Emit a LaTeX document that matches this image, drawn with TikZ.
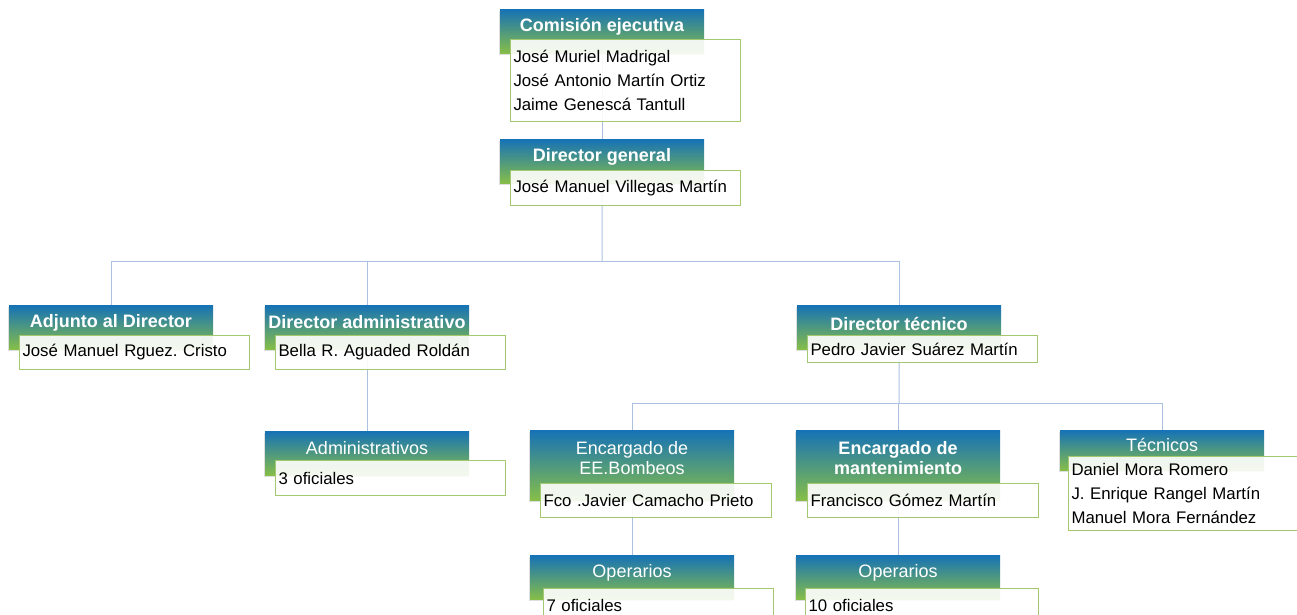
\documentclass[tikz,border=0pt]{standalone}
\usepackage{fontspec}
\setmainfont{Liberation Sans}
\frenchspacing
\usetikzlibrary{shadows,backgrounds}
\definecolor{hdrtop}{RGB}{22,114,182}
\definecolor{hdrbot}{RGB}{134,190,72}
\definecolor{detline}{RGB}{164,200,112}
\definecolor{connline}{RGB}{172,193,226}
\tikzset{
  hdr/.style={anchor=north west, minimum width=204pt, inner sep=0pt,
    top color=hdrtop, bottom color=hdrbot, draw=none,
    drop shadow={shadow xshift=-1.5pt, shadow yshift=-1.5pt, opacity=0.25}},
  htxt/.style={text=white, align=center, inner sep=0pt, yshift=-2.5pt,
    font=\fontsize{18}{20}\selectfont},
  htxtb/.style={htxt, font=\fontsize{18}{20}\selectfont\bfseries},
  det/.style={anchor=north west, draw=detline, line width=1pt, fill=white,
    fill opacity=0.9, text opacity=1, inner ysep=4pt, inner xsep=3pt, text width=224pt,
    align=left, font=\fontsize{16.8}{24}\selectfont\frenchspacing},
  conn/.style={draw=connline, line width=1pt}
}
\begin{document}
\begin{tikzpicture}[x=1pt,y=-1pt]
\useasboundingbox (0,0) rectangle (1297,615);
\clip (0,0) rectangle (1297,615);
% Comision ejecutiva
\node[hdr, minimum height=44pt] (h1) at (500,9) {};
\node[htxtb] (t1) at (602,24) {Comisión ejecutiva};
\node[det, minimum height=82pt] (d1) at (510,39) {José Muriel Madrigal\\José Antonio Martín Ortiz\\Jaime Genescá Tantull};
% Director general
\node[hdr, minimum height=44pt] (h2) at (500,139) {};
\node[htxtb] (t2) at (602,154) {Director general};
\node[det, minimum height=35pt] (d2) at (510,170) {José Manuel Villegas Martín};
% Adjunto
\node[hdr, minimum height=44pt] (hA) at (9,305) {};
\node[htxtb] (tA) at (111,320) {Adjunto al Director};
\node[det, minimum height=34pt] (dA) at (19,335) {José Manuel Rguez. Cristo};
% Director administrativo
\node[hdr, minimum height=44pt] (hB) at (265,305) {};
\node[htxtb] (tB) at (367,320) {Director administrativo};
\node[det, minimum height=34pt] (dB) at (275,335) {Bella R. Aguaded Roldán};
% Director tecnico
\node[hdr, minimum height=44pt] (hT) at (797,305) {};
\node[htxtb] (tT) at (899,321) {Director técnico};
\node[det, minimum height=27pt] (dT) at (807,335) {Pedro Javier Suárez Martín};
% Administrativos
\node[hdr, minimum height=44pt] (hC) at (265,431) {};
\node[htxt] (tC) at (367,446) {Administrativos};
\node[det, minimum height=35pt] (dC) at (275,460) {3 oficiales};
% Encargado EE.Bombeos
\node[hdr, minimum height=70pt] (hD) at (530,430) {};
\node[htxt] (tD) at (632,456) {Encargado de\\EE.Bombeos};
\node[det, minimum height=34pt, text width=225pt] (dD) at (540,483) {Fco .Javier Camacho Prieto};
% Encargado mantenimiento
\node[hdr, minimum height=70pt] (hE) at (796,430) {};
\node[htxtb] (tE) at (898,456) {Encargado de\\mantenimiento};
\node[det, minimum height=34pt, text width=225pt] (dE) at (807,483) {Francisco Gómez Martín};
% Tecnicos
\node[hdr, minimum height=40pt] (hF) at (1060,430) {};
\node[htxt] (tF) at (1162,442) {Técnicos};
\node[det, minimum height=74pt, text width=226pt] (dF) at (1068,456) {Daniel Mora Romero\\J. Enrique Rangel Martín\\Manuel Mora Fernández};
% Operarios 1
\node[hdr, minimum height=44pt] (hG) at (530,555) {};
\node[htxt] (tG) at (632,570) {Operarios};
\node[det, minimum height=34pt] (dG) at (543,588) {7 oficiales};
% Operarios 2
\node[hdr, minimum height=44pt] (hH) at (796,555) {};
\node[htxt] (tH) at (898,570) {Operarios};
\node[det, minimum height=34pt, text width=227pt] (dH) at (805,588) {10 oficiales};
% connectors
\coordinate (b1) at (602,261);
\coordinate (b2) at (899,403);
\begin{scope}[on background layer]
\draw[conn] (h1.center) -- (h2.center);
\draw[conn] (h2.center) -- (b1);
\draw[conn] (hA.center) -- (hA.center |- b1) -- (hT.center |- b1) -- (hT.center);
\draw[conn] (hB.center |- b1) -- (hB.center);
\draw[conn] (hB.center) -- (hC.center);
\draw[conn] (hT.center) -- (b2);
\draw[conn] (hD.center) -- (hD.center |- b2) -- (hF.center |- b2) -- (hF.center);
\draw[conn] (hE.center |- b2) -- (hE.center);
\draw[conn] (hD.center) -- (hG.center);
\draw[conn] (hE.center) -- (hH.center);
\end{scope}
\end{tikzpicture}
\end{document}
